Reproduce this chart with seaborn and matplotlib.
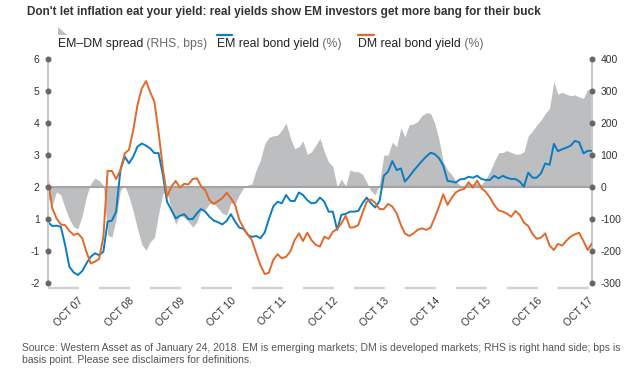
import numpy as np
import pandas as pd
import matplotlib
matplotlib.use("Agg")
import matplotlib.pyplot as plt
from matplotlib.lines import Line2D
from matplotlib.patches import Polygon
import seaborn as sns

sns.set_theme(style="white")
plt.rcParams['font.family'] = ['Liberation Sans', 'DejaVu Sans']
plt.rcParams['lines.scale_dashes'] = False

# ---------------- data ----------------
START, END = "2007-03-01", "2017-11-01"
dates = pd.date_range(START, END, freq="MS")

em_yield = [
    0.90, 0.78, 0.79, 0.76, 0.20, -0.49, -0.67, -0.75, -0.63, -0.39,
    -0.18, -0.07, -0.13, -0.02, 0.92, 0.95, 1.23, 2.53, 2.95, 2.74,
    2.95, 3.26, 3.36, 3.29, 3.21, 3.06, 3.06, 2.38, 1.54, 1.28,
    1.02, 1.10, 1.15, 1.00, 1.00, 1.18, 1.31, 1.23, 1.07, 0.95,
    0.90, 0.83, 0.94, 1.15, 0.92, 0.73, 0.69, 0.50, 0.44, 0.47,
    0.40, 0.58, 1.00, 1.39, 1.54, 1.49, 1.75, 1.57, 1.56, 1.83,
    1.75, 1.59, 1.49, 1.51, 1.67, 1.54, 1.23, 1.23, 0.66, 1.13,
    1.16, 1.23, 1.23, 1.25, 1.49, 1.67, 1.49, 1.36, 1.56, 2.35,
    2.48, 2.81, 2.53, 2.58, 2.17, 2.32, 2.50, 2.66, 2.81, 2.95,
    3.07, 3.03, 2.90, 2.67, 2.19, 2.17, 2.14, 2.24, 2.25, 2.32,
    2.29, 2.35, 2.25, 2.22, 2.22, 2.35, 2.27, 2.35, 2.29, 2.25,
    2.25, 2.17, 2.01, 2.45, 2.29, 2.29, 2.43, 2.74, 2.69, 3.35,
    3.12, 3.18, 3.23, 3.29, 3.44, 3.40, 3.05, 3.13, 3.13,
]

dm_yield = [
    2.20, 1.33, 1.02, 0.83, 0.81, 0.63, 0.50, 0.55, 0.40, -0.02,
    -0.39, -0.33, -0.25, 0.45, 2.50, 2.50, 2.25, 2.53, 3.05, 3.16,
    3.78, 4.56, 5.08, 5.31, 4.98, 4.67, 3.73, 2.58, 1.70, 2.01,
    2.19, 1.98, 2.10, 2.08, 2.25, 2.27, 2.03, 1.90, 1.59, 1.47,
    1.56, 1.65, 1.82, 1.65, 1.44, 0.97, 0.71, 0.50, 0.34, -0.07,
    -0.44, -0.72, -0.68, -0.28, -0.10, -0.23, -0.18, -0.02, 0.34, 0.55,
    0.31, 0.57, 0.34, 0.19, 0.14, 0.45, 0.38, 0.60, 0.69, 0.86,
    1.10, 0.73, 0.74, 0.81, 1.18, 1.54, 1.61, 1.50, 1.31, 1.31,
    1.47, 1.39, 1.18, 0.81, 0.55, 0.47, 0.55, 0.66, 0.71, 0.66,
    0.73, 1.04, 1.39, 1.77, 1.44, 1.67, 1.83, 1.91, 1.94, 2.15,
    1.98, 2.20, 1.96, 1.85, 1.67, 1.44, 1.27, 1.23, 1.17, 1.07,
    1.25, 1.13, 0.89, 0.78, 0.53, 0.38, 0.42, 0.55, 0.17, 0.03,
    0.22, 0.17, 0.32, 0.45, 0.52, 0.57, 0.31, 0.03, 0.24,
]

spread_bps = [
    -35, -55, -15, -25, -65, -100, -125, -130, -90, -30,
    10, 28, 20, 5, -150, -157, -100, -10, 5, -30,
    -77, -130, -180, -198, -172, -158, -85, -20, -15, -73,
    -117, -88, -95, -108, -125, -109, -72, -70, -52, -52,
    -66, -82, -88, -50, -52, -24, -2, 6, 10, 54,
    84, 135, 155, 160, 162, 178, 200, 155, 120, 126,
    144, 102, 110, 131, 152, 110, 77, 64, 0, 25,
    3, 53, 48, 48, 40, 15, -12, -25, 12, 100,
    100, 140, 126, 185, 157, 194, 197, 205, 223, 232,
    230, 199, 147, 79, 53, 38, 19, 6, 2, 12,
    10, 12, 8, 25, 48, 79, 107, 108, 114, 108,
    103, 103, 110, 160, 175, 194, 209, 230, 246, 330,
    290, 296, 290, 285, 288, 281, 277, 305, 298,
]

tick_years = list(range(2007, 2018))
x_tick_labels = ["OCT 07", "OCT 08", "OCT 09", "OCT 10", "OCT 11", "OCT 12",
                 "OCT 13", "OCT 14", "OCT 15", "OCT 16", "OCT 17"]
left_ticks = [6, 5, 4, 3, 2, 1, 0, -1]
left_labels = ["6", "5", "4", "3", "2", "1", "-1", "-2"]
right_ticks = [400, 300, 200, 100, 0, -100, -200, -300]
right_labels = ["400", "300", "200", "100", "0", "-100", "-200", "-300"]

title = ("Don't let inflation eat your yield: real yields show EM investors "
         "get more bang for their buck")
source_1 = ("Source: Western Asset as of January 24, 2018. EM is emerging markets; "
            "DM is developed markets; RHS is right hand side; bps is")
source_2 = "basis point. Please see disclaimers for definitions."

C_EM = "#0a7cc2"
C_DM = "#e2692a"
C_SPREAD = "#bdbec0"

# ---------------- figure ----------------
W, H = 628, 385
fig = plt.figure(figsize=(W / 100, H / 100), dpi=100)
fig.patch.set_facecolor("white")
ax = fig.add_axes([48 / W, 1 - 283 / H, 544 / W, 224 / H])
ax2 = ax.twinx()
ax.set_zorder(ax2.get_zorder() + 1)
ax.patch.set_visible(False)

df = pd.DataFrame({"date": dates, "EM": em_yield, "DM": dm_yield,
                   "spread": spread_bps})

ax2.fill_between(df["date"], 0, df["spread"], color=C_SPREAD, lw=0)
ax2.axhline(0, color="#a4a4a4", lw=1.5, zorder=3)

sns.lineplot(data=df, x="date", y="EM", ax=ax, color=C_EM, lw=1.4)
sns.lineplot(data=df, x="date", y="DM", ax=ax, color=C_DM, lw=1.4)

ax.set_xlim(dates[0], dates[-1])
ax.set_ylim(-1, 6)
ax2.set_ylim(-300, 400)
ax.set_xlabel("")
ax.set_ylabel("")
ax2.set_ylabel("")

for s in ["top", "bottom", "right"]:
    ax.spines[s].set_visible(False)
for s in ["top", "bottom", "left"]:
    ax2.spines[s].set_visible(False)
ax.spines["left"].set_color("#c8c8c8")
ax.spines["left"].set_linewidth(1.5)
ax2.spines["right"].set_color("#c8c8c8")
ax2.spines["right"].set_linewidth(1.5)

ax.set_yticks(left_ticks)
ax.set_yticklabels(left_labels)
ax2.set_yticks(right_ticks)
ax2.set_yticklabels(right_labels)
ax.tick_params(axis="y", length=0, pad=6, labelsize=7.5, labelcolor="#333333")
ax2.tick_params(axis="y", length=0, pad=6, labelsize=7.5, labelcolor="#333333")

oct_ticks = pd.to_datetime([f"{y}-10-01" for y in tick_years])
ax.set_xticks(oct_ticks)
ax.set_xticklabels(x_tick_labels, rotation=45, ha="right",
                   rotation_mode="anchor")
ax.tick_params(axis="x", length=0, pad=9, labelsize=7.5, labelcolor="#333333")
ax.grid(False)
ax2.grid(False)

# tick dots
ax.plot(np.zeros(len(left_ticks)), left_ticks, "o", ms=3.3, color="#666666",
        transform=ax.get_yaxis_transform(), clip_on=False, zorder=6)
ax2.plot(np.ones(len(right_ticks)), right_ticks, "o", ms=3.3, color="#666666",
         transform=ax2.get_yaxis_transform(), clip_on=False, zorder=6)

# dashed baseline under the plot
ax.plot([dates[0], dates[-1]], [-5 / 224, -5 / 224], color="#d0d0d0", lw=1.7,
        dashes=(22.3, 14.4), transform=ax.get_xaxis_transform(), clip_on=False)

# ---------------- title, legend, source ----------------
fig.text(27 / W, 1 - 15 / H, title, fontsize=8.5, fontweight="bold",
         color="#333333", va="baseline")

fig.patches.append(Polygon([(58 / W, 1 - 27 / H), (58 / W, 1 - 35 / H),
                            (67 / W, 1 - 35 / H)], closed=True,
                           facecolor=C_SPREAD, edgecolor="none",
                           transform=fig.transFigure))
fig.lines.append(Line2D([217 / W, 232 / W], [1 - 35 / H, 1 - 35 / H], color=C_EM,
                        lw=1.6, transform=fig.transFigure))
fig.lines.append(Line2D([358 / W, 374 / W], [1 - 35 / H, 1 - 35 / H], color=C_DM,
                        lw=1.6, transform=fig.transFigure))

legend_items = [(58, "EM\u2013DM spread", " (RHS, bps)"),
                (217, "EM real bond yield", " (%)"),
                (358, "DM real bond yield", " (%)")]
for x0, main, extra in legend_items:
    t = fig.text(x0 / W, 1 - 50 / H, main, fontsize=8.8, color="#222222",
                 va="bottom")
    plt.annotate(extra, xy=(1, 0), xycoords=t, fontsize=8.8,
                 color="#6a6a6a", va="bottom", ha="left",
                 annotation_clip=False)

fig.text(22 / W, 1 - 351 / H, source_1, fontsize=7.5, color="#555555",
         va="baseline")
fig.text(22 / W, 1 - 363 / H, source_2, fontsize=7.5, color="#555555",
         va="baseline")

fig.savefig("out.png", dpi=100, facecolor="white")
